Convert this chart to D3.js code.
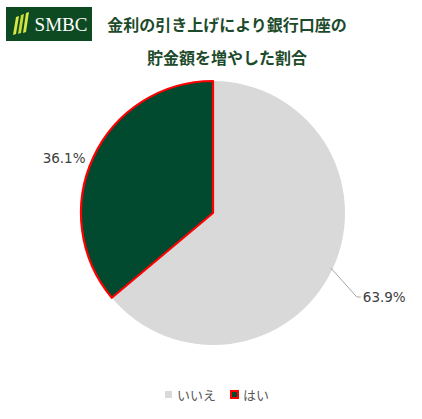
<!DOCTYPE html>
<html>
<head>
<meta charset="utf-8">
<script src="https://cdn.jsdelivr.net/npm/d3@7"></script>
<style>
  body { margin: 0; background: #fff; }
  svg { display: block; }
</style>
</head>
<body>
<div id="chart"></div>
<script>
  let categories = ["いいえ", "はい"];
  let values = [63.9, 36.1];
  let valueLabels = ["63.9%", "36.1%"];
  let titleLines = ["金利の引き上げにより銀行口座の", "貯金額を増やした割合"];

  let WIDTH = 422, HEIGHT = 419;
  let CX = 213, CY = 213, R = 132;
  let FONT = "'Noto Sans CJK JP', 'Noto Sans', sans-serif";
  let NUM_FONT = "'DejaVu Sans', Verdana, sans-serif";

  let svg = d3.select("#chart").append("svg").attr("width", WIDTH).attr("height", HEIGHT);

  //logo
  let logo = svg.append("g");
  logo.append("rect").attr("x", 6).attr("y", 7).attr("width", 86).attr("height", 34).attr("fill", "#0d4a22");
  [13, 18, 23].forEach(function(x, i) {
    logo.append("path")
        .attr("d", "M" + (x + 3) + "," + (13 + (2 - i) * 2) + " L" + (x + 6) + "," + (12 + (2 - i) * 2) +
                   " L" + (x + 3) + "," + (34 - i) + " L" + x + "," + (35 - i) + " Z")
        .attr("fill", i == 1 ? "#c8dc32" : "#d8e84a");
  });
  logo.append("text").attr("x", 61).attr("y", 31).attr("text-anchor", "middle")
      .attr("font-family", "'Liberation Serif', 'DejaVu Serif', serif").attr("font-size", 19)
      .attr("fill", "#fff").text("SMBC");

  //title
  svg.selectAll(".title").data(titleLines).enter().append("text")
     .attr("class", "title")
     .attr("x", 227)
     .attr("y", function(d, i) { return 31 + i * 33; })
     .attr("text-anchor", "middle")
     .attr("font-family", FONT).attr("font-weight", "bold").attr("font-size", 16)
     .attr("fill", "#1c4a2a")
     .text(function(d) { return d; });

  //pie
  let colors = d3.scaleOrdinal().domain(categories).range(["#d9d9d9", "#024a2f"]);
  let strokes = d3.scaleOrdinal().domain(categories).range(["none", "#ff0000"]);
  let pie = d3.pie().sort(null).value(function(d) { return d.v; });
  let arcs = pie(categories.map(function(c, i) { return {c: c, v: values[i], label: valueLabels[i]}; }));
  let arc = d3.arc().innerRadius(0).outerRadius(R);

  let g = svg.append("g").attr("transform", "translate(" + CX + "," + CY + ")");
  g.selectAll("path").data(arcs).enter().append("path")
   .attr("d", arc)
   .attr("fill", function(d) { return colors(d.data.c); })
   .attr("stroke", function(d) { return strokes(d.data.c); })
   .attr("stroke-width", 2.2)
   .attr("stroke-linejoin", "round");

  //labels
  let a0 = arcs[0], mid0 = (a0.startAngle + a0.endAngle) / 2;
  let p1 = [Math.sin(mid0) * (R - 2), -Math.cos(mid0) * (R - 2)];
  let p2 = [p1[0] + 26, p1[1] + 29];
  g.append("polyline")
   .attr("points", [p1, p2, [p2[0] + 4, p2[1]]].map(function(p) { return p.join(","); }).join(" "))
   .attr("fill", "none").attr("stroke", "#a6a6a6").attr("stroke-width", 1);
  g.append("text").attr("x", p2[0] + 6).attr("y", p2[1] + 5)
   .attr("font-family", NUM_FONT).attr("font-size", 13.5).attr("fill", "#404040")
   .text(a0.data.label);

  let a1 = arcs[1], mid1 = (a1.startAngle + a1.endAngle) / 2;
  g.append("text")
   .attr("x", Math.sin(mid1) * (R + 12) + 3).attr("y", -Math.cos(mid1) * (R + 12) + 11)
   .attr("text-anchor", "end")
   .attr("font-family", NUM_FONT).attr("font-size", 13.5).attr("fill", "#404040")
   .text(a1.data.label);

  //legend
  let legend = svg.append("g").attr("transform", "translate(165,395)");
  let offsets = [0, 66];
  categories.forEach(function(c, i) {
    let lg = legend.append("g").attr("transform", "translate(" + offsets[i] + ",0)");
    lg.append("rect").attr("x", 0).attr("y", -4).attr("width", 7).attr("height", 7)
      .attr("fill", colors(c)).attr("stroke", strokes(c)).attr("stroke-width", 2);
    lg.append("text").attr("x", 12).attr("y", 4.5)
      .attr("font-family", FONT).attr("font-size", 13).attr("fill", "#595959").text(c);
  });
</script>
</body>
</html>
